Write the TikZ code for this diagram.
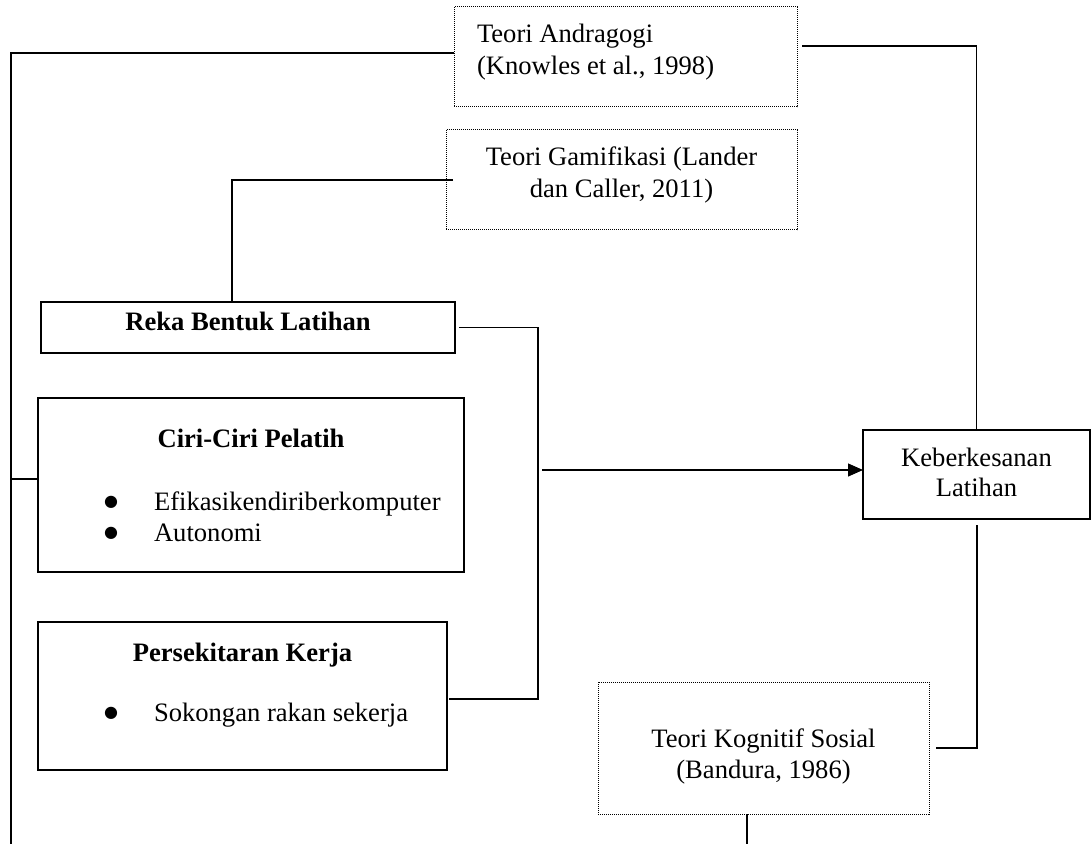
\documentclass[tikz,border=0pt]{standalone}
\usepackage{fontspec}
\setmainfont{Liberation Serif}
\newfontfamily\simbol{DejaVu Sans}
\usetikzlibrary{positioning,arrows.meta}

\newcommand{\butir}[1]{\makebox[25pt][l]{\raisebox{1.75pt}{\fontsize{8pt}{8pt}\simbol ●}}#1}
\newcommand{\baris}[2][c]{\begin{tabular}[t]{@{}#1@{}}#2\end{tabular}}

\begin{document}
\begin{tikzpicture}
[x=0.5pt,y=-0.5pt,
 every node/.style={font=\fontsize{13.3pt}{16pt}\selectfont,outer sep=0pt},
 teori/.style={rectangle,draw=black,line width=0.5pt,dash pattern=on 0.5pt off 0.5pt,minimum height=50pt,text height=0pt},
 kotak/.style={rectangle,draw,line width=1pt},
 hasil/.style={rectangle,draw,line width=0.6pt},
 tajuk/.style={font=\fontsize{13.3pt}{16pt}\selectfont\bfseries,inner sep=0pt,anchor=base},
 isi/.style={inner sep=0pt,anchor=base west},
 garis/.style={line width=0.6pt}]
\useasboundingbox (0,0) rectangle (1091,844);

% teori
\node[teori,minimum width=171.5pt,text depth=14pt] (andra) at (625.5,57)
  {\makebox[148.5pt][l]{\baris[l]{Teori Andragogi\\(Knowles et al., 1998)}}};
\node[teori,minimum width=175.5pt,text depth=14.5pt] (gami) [on grid,below left=61.5pt and 2pt of andra]
  {\baris{Teori Gamifikasi (Lander\\dan Caller, 2011)}};
\node[teori,minimum width=165.5pt,minimum height=66pt,text depth=1pt,font=\fontsize{13.3pt}{15.5pt}\selectfont] (kogn) at (763.5,748)
  {\baris{Teori Kognitif Sosial\\(Bandura, 1986)}};

% pemboleh ubah
\node[kotak,minimum width=207pt,minimum height=25.5pt,font=\fontsize{13.3pt}{16pt}\selectfont\bfseries,text height=3.5pt,text depth=0pt] (reka) at (248,327.5) {Reka Bentuk Latihan};
\node[kotak,minimum width=213pt,minimum height=87pt] (ciri) [on grid,below right=78.5pt and 1.5pt of reka] {};
\node[kotak,minimum width=204.5pt,minimum height=74pt] (persek) [on grid,below left=105.75pt and 4.25pt of ciri] {};
\node[hasil,minimum width=113.5pt,minimum height=44.5pt,text height=0pt,text depth=8.5pt,font=\fontsize{13.3pt}{15pt}\selectfont] (keber) at (976.5,474.5)
  {\baris{Keberkesanan\\Latihan}};

\node[tajuk] (ciritajuk) at (251,447) {Ciri-Ciri Pelatih};
\node[isi] (ciri1) at (104,510) {\butir{Efikasikendiriberkomputer}};
\node[isi] (ciri2) at (104,541) {\butir{Autonomi}};
\node[tajuk] (persektajuk) at (242.5,661) {Persekitaran Kerja};
\node[isi] (persek1) at (104,721) {\butir{Sokongan rakan sekerja}};

% sambungan
\coordinate (tulang) at (11,844);
\coordinate (cabang) at (538,470);
\coordinate (hujung) at (747,844);

\draw[garis] ([yshift=2pt]andra.west) -| (tulang);
\draw[garis] ([yshift=2.75pt]ciri.west) -- +(-13.5pt,0);
\draw[garis] ([xshift=3.5pt]gami.west) -| ([xshift=-8pt]reka.north);
\draw[garis] ([xshift=2.5pt,yshift=5.5pt]andra.east) -| (keber.north);
\draw[garis] ([xshift=2pt]reka.east) -| (cabang) |- ([xshift=1pt,yshift=-1.5pt]persek.east);
\draw[garis,-{Triangle[length=7.5pt,width=6.5pt]}] ([xshift=2pt]cabang) -- (cabang -| keber.west);
\draw[garis] ([xshift=0.25pt,yshift=-3pt]keber.south) |- ([xshift=3.5pt]kogn.east);
\draw[garis] (kogn.south -| hujung) -- (hujung);
\end{tikzpicture}
\end{document}
